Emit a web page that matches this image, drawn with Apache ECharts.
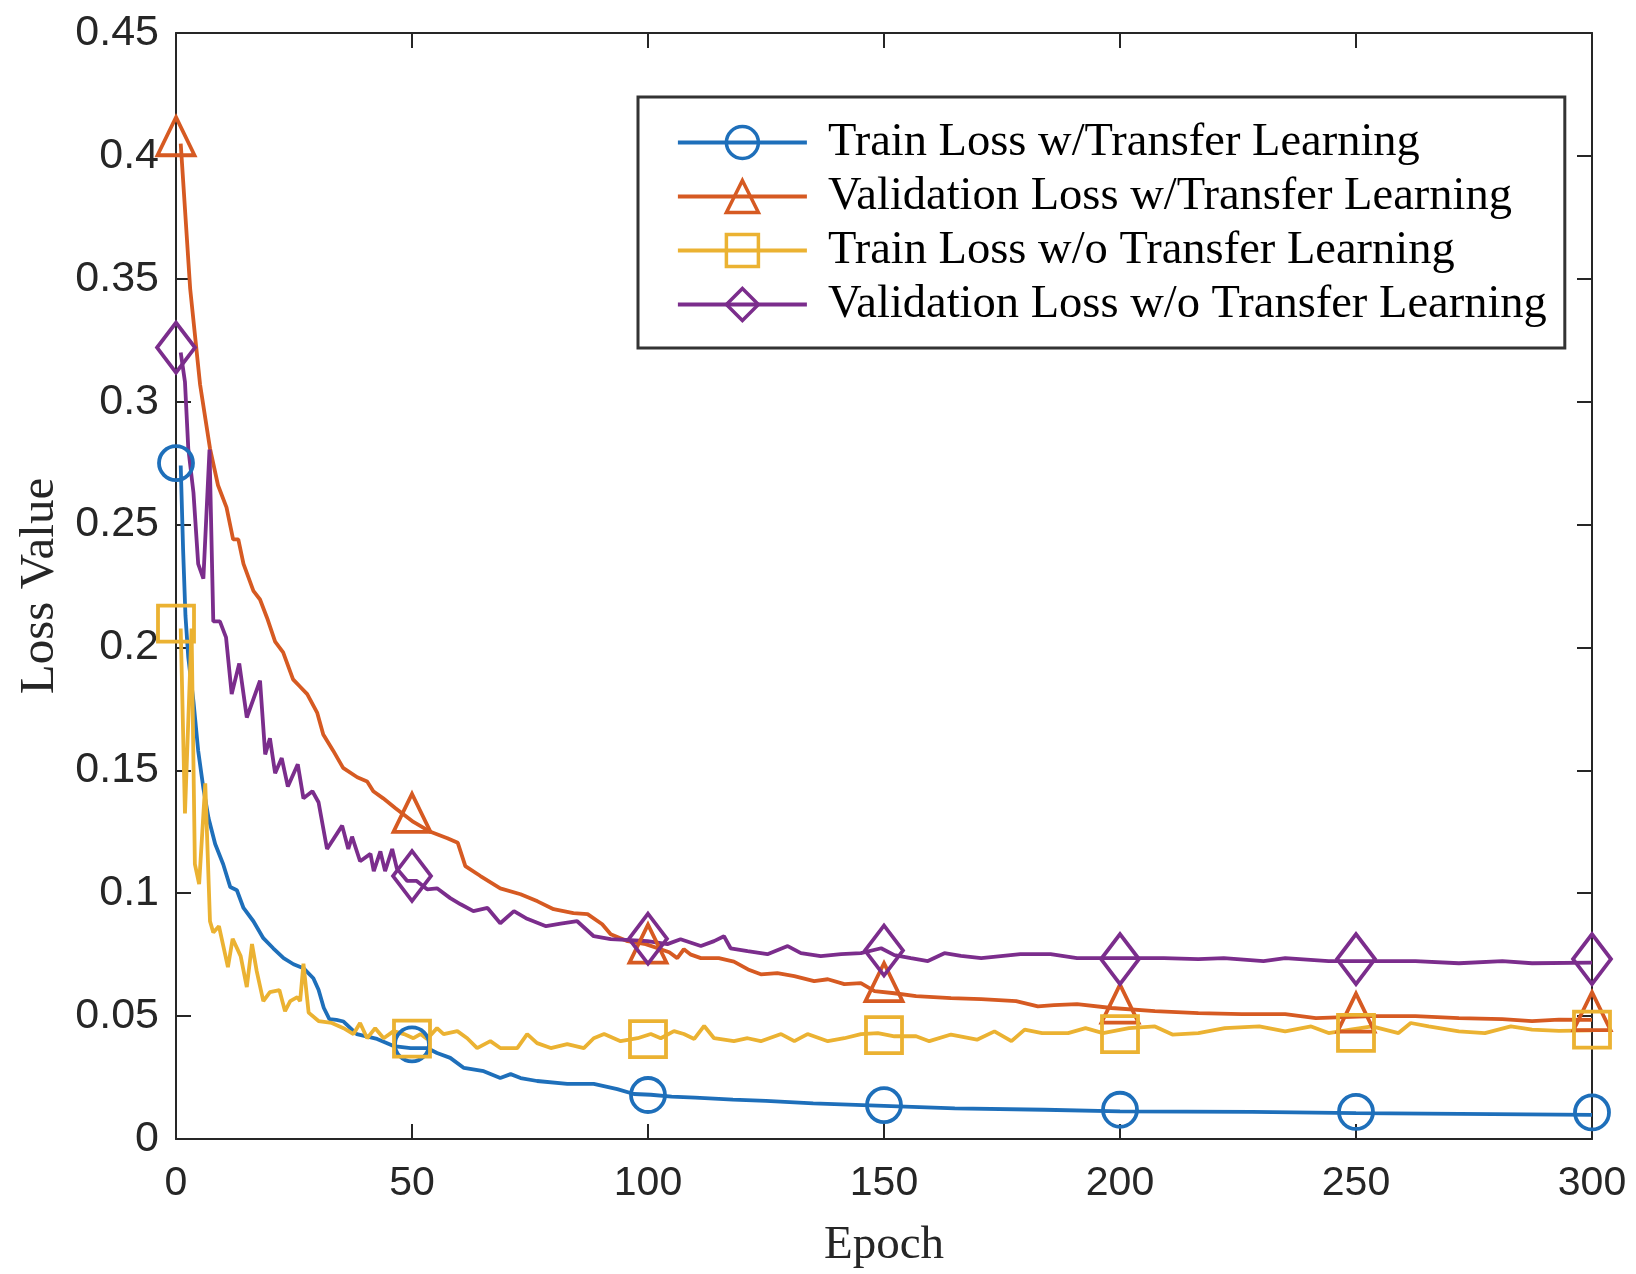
<!DOCTYPE html>
<html><head><meta charset="utf-8">
<script src="https://cdn.jsdelivr.net/npm/echarts@6/dist/echarts.min.js"></script>
<style>html,body{margin:0;padding:0;background:#fff}#c{width:1636px;height:1274px}</style>
</head><body><div id="c"></div>
<script>
// ---- data (epoch, loss) ----
const seriesNames = ['Train Loss w/Transfer Learning','Validation Loss w/Transfer Learning','Train Loss w/o Transfer Learning','Validation Loss w/o Transfer Learning'];
const xTicks = [0,50,100,150,200,250,300];
const yTicks = [0,0.05,0.1,0.15,0.2,0.25,0.3,0.35,0.4,0.45];
const markerEpochs = [0,50,100,150,200,250,300];

const trainTL = [[1,0.274],[1.5,0.240],[2,0.213],[2.6,0.196],[3.7,0.178],[4.7,0.158],[5.8,0.1427],[6.9,0.1305],[8.3,0.12],[10,0.1118],[11.5,0.1025],[12.9,0.1012],[14.3,0.094],[16.4,0.0886],[18.5,0.0817],[20.6,0.0776],[22.8,0.0736],[24.9,0.0711],[27,0.0695],[29.1,0.0654],[30.2,0.0607],[31.3,0.0534],[32.5,0.0488],[34,0.0485],[35.5,0.0478],[38.3,0.0427],[42.6,0.0407],[46.1,0.0378],[49.7,0.037],[53.2,0.037],[55.3,0.035],[58.1,0.033],[61,0.0289],[65.2,0.0276],[68.7,0.0248],[70.9,0.0264],[73,0.0248],[76.5,0.0236],[82.9,0.0224],[88.5,0.0224],[93.5,0.0203],[97,0.0183],[100.6,0.018],[105,0.0172],[110,0.0168],[118,0.016],[125,0.0155],[135,0.0145],[150,0.0135],[165,0.0125],[184,0.0119],[200,0.0112],[228,0.011],[250,0.0105],[272,0.0102],[300,0.0098]];

const valTL = [[1,0.405],[3,0.346],[5.1,0.307],[7.2,0.281],[8.9,0.266],[10.7,0.257],[12.1,0.244],[13.2,0.244],[14.3,0.234],[16.4,0.223],[17.8,0.2195],[19.3,0.212],[21,0.2024],[22.7,0.198],[24.8,0.187],[26.3,0.184],[27.8,0.181],[29.9,0.1735],[31.2,0.1646],[33.3,0.158],[35.4,0.151],[38.4,0.1472],[40.5,0.1455],[41.8,0.1415],[43.9,0.1386],[46.5,0.1346],[50.3,0.129],[53.9,0.125],[57.5,0.1224],[59.7,0.1205],[61.3,0.111],[64.5,0.107],[68.7,0.102],[73,0.0996],[76.6,0.0967],[80,0.0935],[84.2,0.0919],[87.2,0.0915],[90.3,0.0874],[92.1,0.0833],[95.7,0.0805],[99.5,0.0793],[102.7,0.0772],[104.5,0.0760],[106.2,0.0736],[107.6,0.0772],[109.1,0.0750],[111.2,0.0736],[115,0.0736],[118.2,0.0722],[121.2,0.0690],[123.9,0.067],[127.4,0.0675],[131,0.0663],[135.2,0.0642],[138.1,0.065],[141.6,0.063],[145.1,0.0634],[148,0.0602],[152.2,0.0593],[156.8,0.0581],[164.2,0.0573],[170.6,0.0569],[178,0.0561],[182.6,0.054],[186,0.0545],[190.9,0.0549],[198.2,0.0533],[207.4,0.052],[216.6,0.0512],[225.8,0.0508],[235,0.0508],[241.5,0.0492],[253.4,0.05],[262.6,0.05],[271.8,0.0492],[281,0.0488],[287.3,0.048],[293,0.0486],[300,0.0485]];

const trainNoTL = [[1,0.2077],[1.9,0.1325],[3.3,0.2077],[4,0.1118],[4.9,0.1037],[6.2,0.1447],[7.2,0.0886],[7.9,0.084],[9.1,0.0866],[11,0.0699],[12,0.0815],[13.7,0.0744],[15,0.0618],[16.1,0.0793],[17.1,0.0683],[18.5,0.0561],[19.9,0.0598],[21.9,0.0606],[23.1,0.052],[24.2,0.0561],[25.7,0.0577],[26.3,0.0561],[27,0.0713],[28.1,0.0514],[30.2,0.048],[33,0.0472],[35.5,0.0451],[37.6,0.0427],[39,0.0472],[40.5,0.041],[42.2,0.0451],[44,0.041],[46.1,0.0439],[48.3,0.0427],[50.3,0.041],[51.8,0.0427],[53.2,0.0407],[55.3,0.0451],[56.7,0.0427],[59.6,0.0439],[61.7,0.041],[63.8,0.037],[66.6,0.0398],[68.7,0.037],[72.3,0.037],[74.4,0.0427],[76.5,0.039],[79.4,0.037],[82.9,0.0386],[86.4,0.037],[88.5,0.041],[90.7,0.0427],[94.2,0.0398],[97.8,0.041],[100.6,0.0427],[102.7,0.041],[105.5,0.0439],[107.6,0.0427],[109.8,0.0407],[111.9,0.046],[114,0.041],[118.2,0.0398],[121.1,0.041],[123.9,0.0398],[128.2,0.0427],[131,0.0398],[133.8,0.0427],[138.1,0.0398],[141.6,0.041],[145.1,0.0427],[148.7,0.0431],[152.2,0.0418],[156.8,0.0418],[159.6,0.0398],[164.2,0.0425],[169.7,0.0404],[173.4,0.0438],[177,0.0398],[179.8,0.0445],[183.5,0.0431],[189,0.0431],[192.7,0.0451],[196.4,0.0431],[201.9,0.0451],[207.4,0.0458],[211.1,0.0425],[216.6,0.0431],[222.2,0.0451],[229.5,0.0458],[235,0.0438],[240.5,0.0458],[244.2,0.0431],[248.8,0.0445],[253.4,0.0458],[259,0.0431],[261.6,0.0472],[265.4,0.0458],[271.8,0.0438],[277.3,0.0431],[282.8,0.0458],[287.3,0.0445],[293,0.044],[300,0.0442]];

const valNoTL = [[1,0.320],[1.9,0.308],[2.6,0.281],[3.7,0.263],[4.7,0.234],[5.8,0.228],[7.1,0.2805],[7.9,0.2106],[9.3,0.2106],[10.6,0.2041],[11.8,0.181],[13.4,0.1935],[15,0.1715],[17.8,0.1865],[18.9,0.1565],[19.9,0.163],[21,0.1488],[22.4,0.155],[23.7,0.1434],[25.8,0.1525],[27,0.1386],[28.9,0.1415],[30.2,0.137],[32,0.118],[35.2,0.1275],[36.5,0.118],[37.3,0.123],[39,0.113],[41.2,0.116],[41.9,0.109],[43.3,0.117],[44.3,0.109],[45.8,0.118],[46.8,0.110],[49,0.105],[51,0.105],[53.2,0.1016],[55.3,0.102],[58.1,0.098],[60.3,0.0955],[63,0.0927],[66,0.094],[68.7,0.0878],[71.6,0.0927],[74.4,0.0896],[78.4,0.0866],[81.5,0.0876],[85,0.0886],[88.5,0.0825],[92.1,0.0813],[96.3,0.0809],[99.9,0.0805],[104.1,0.0793],[106.9,0.0813],[111.2,0.0785],[114,0.0805],[116.1,0.0825],[117.5,0.0776],[121.1,0.0764],[125.3,0.0752],[129.6,0.0785],[132.4,0.0756],[136.6,0.0744],[140.9,0.0752],[145.1,0.0756],[149.4,0.0776],[152.2,0.0748],[155.7,0.0736],[159.3,0.0724],[162.8,0.0756],[166.3,0.0745],[170.6,0.0736],[178.9,0.0752],[185.3,0.0752],[190.9,0.0736],[200,0.0736],[209.3,0.0736],[216.6,0.0732],[222,0.0736],[230.4,0.0724],[235,0.0736],[244.2,0.0724],[253.4,0.0724],[262.6,0.0724],[271.8,0.0715],[281,0.0724],[287.3,0.0715],[300,0.0718]];

// marker values at epochs 0,50,...,300
const trainTLMarkers   = [0.275, 0.0385, 0.0179, 0.0138, 0.0119, 0.0110, 0.0108];
const valTLMarkers     = [0.408, 0.1327, 0.0795, 0.0638, 0.0551, 0.0514, 0.0520];
const trainNoTLMarkers = [0.2097, 0.0408, 0.0406, 0.0423, 0.0427, 0.0432, 0.0445];
const valNoTLMarkers   = [0.322, 0.1070, 0.0815, 0.0767, 0.0732, 0.0732, 0.0732];

// ---- styling ----
const colors = ['#1E6FBA','#D65A22','#EBB232','#7B2D8C'];
const symbols = ['circle','triangle','rect','diamond'];
const symSizes = [34,[37,38],36,[38,50]];
const lines = [trainTL, valTL, trainNoTL, valNoTL];
const markers = [trainTLMarkers, valTLMarkers, trainNoTLMarkers, valNoTLMarkers];
const axisColor = '#262626';
const sansFont = "'Liberation Sans', Arial, Helvetica, sans-serif";
const serifFont = "'Liberation Serif', 'Times New Roman', serif";

const series = [];
lines.forEach((d, i) => {
  series.push({
    name: seriesNames[i], type: 'line', data: d,
    symbol: symbols[i], symbolSize: symSizes[i], showSymbol: false,
    lineStyle: {color: colors[i], width: 3.8},
    itemStyle: {color: 'rgba(255,255,255,0)', borderColor: colors[i], borderWidth: 3.5, opacity: 1},
    z: 2 + i, silent: true
  });
});
markers.forEach((m, i) => {
  series.push({
    name: 'm' + i, type: 'scatter',
    data: markerEpochs.map((e, k) => [e, m[k]]),
    symbol: symbols[i], symbolSize: symSizes[i],
    itemStyle: {color: 'rgba(255,255,255,0)', borderColor: colors[i], borderWidth: 3.8, opacity: 1},
    z: 10 + i, silent: true
  });
});

const baseX = {
  type: 'value', min: 0, max: 300, interval: 50,
  axisLine: {show: true, onZero: false, lineStyle: {color: axisColor, width: 2}},
  axisTick: {show: true, inside: true, length: 15, lineStyle: {color: axisColor, width: 2}},
  splitLine: {show: false}
};
const baseY = {
  type: 'value', min: 0, max: 0.45, interval: 0.05,
  axisLine: {show: true, onZero: false, lineStyle: {color: axisColor, width: 2}},
  axisTick: {show: true, inside: true, length: 15, lineStyle: {color: axisColor, width: 2}},
  splitLine: {show: false}
};

const chart = echarts.init(document.getElementById('c'), null, {renderer: 'canvas'});
chart.setOption({
  animation: false,
  backgroundColor: '#fff',
  grid: {left: 176, right: 44, top: 33, bottom: 135},
  xAxis: [
    Object.assign({}, baseX, {
      position: 'bottom',
      axisLabel: {color: axisColor, fontSize: 41, fontFamily: sansFont, margin: 24,
        formatter: v => xTicks.includes(v) ? String(v) : ''},
      name: 'Epoch', nameLocation: 'middle', nameGap: 83,
      nameTextStyle: {color: axisColor, fontSize: 47, fontFamily: serifFont}
    }),
    Object.assign({}, baseX, {position: 'top', axisLabel: {show: false}})
  ],
  yAxis: [
    Object.assign({}, baseY, {
      position: 'left',
      axisLabel: {color: axisColor, fontSize: 43, fontFamily: sansFont, margin: 17,
        formatter: v => { const t = yTicks.find(y => Math.abs(y - v) < 1e-9); return t === undefined ? '' : String(t); }},
      name: 'Loss Value', nameLocation: 'middle', nameGap: 110,
      nameTextStyle: {color: axisColor, fontSize: 49, fontFamily: serifFont}
    }),
    Object.assign({}, baseY, {position: 'right', axisLabel: {show: false}})
  ],
  legend: {
    data: seriesNames,
    orient: 'vertical', left: 638, top: 97,
    itemWidth: 129, itemHeight: 40, itemGap: 7,
    padding: [22, 18, 20, 38],
    backgroundColor: '#fff', borderColor: '#333', borderWidth: 3, borderRadius: 0,
    itemStyle: {borderWidth: 3.5, opacity: 1},
    lineStyle: {width: 3.8},
    textStyle: {color: '#000', fontSize: 46.5, fontFamily: serifFont, padding: [0, 0, 0, 16]},
    selectedMode: false
  },
  series: series
});
</script>
</body></html>
